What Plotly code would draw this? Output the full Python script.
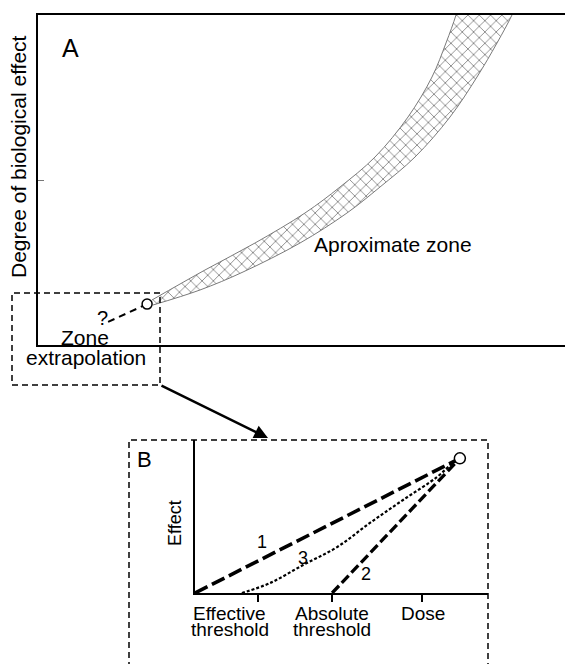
import plotly.graph_objects as go

W, H = 565, 664
FONT = "Liberation Sans, Arial, sans-serif"

# ---- Panel A: dose-response band (arbitrary units, 0..10 on both axes)
band_upper_dose = [2.163, 3.169, 4.118, 5.066, 5.731, 6.395, 7.021, 7.476, 7.742, 7.932, 8.008]
band_upper_effect = [1.364, 2.273, 3.091, 4.0, 4.788, 5.697, 6.909, 8.121, 9.152, 10.0, 10.45]
band_lower_dose = [2.182, 3.074, 3.890, 4.972, 5.863, 6.49, 7.154, 7.818, 8.33, 8.71, 8.994, 9.108]
band_lower_effect = [1.212, 1.667, 2.212, 3.091, 4.0, 4.788, 5.697, 6.909, 8.121, 9.152, 10.0, 10.45]

last_observed = (2.07, 1.24)
extrap_dose = [1.33, 2.07]
extrap_effect = [0.70, 1.24]
a_tick_effect = [5]

# ---- Panel B: extrapolation models toward zero dose
b_point = (9.04, 8.8)
model1_dose = [0.0, 9.04]
model1_effect = [0.0, 8.8]
model2_dose = [4.68, 9.04]
model2_effect = [0.0, 8.8]
model3_dose = [1.6, 2.56, 3.69, 4.85, 5.97, 7.1, 8.26, 8.8, 9.04]
model3_effect = [0.0, 0.65, 1.83, 3.0, 4.58, 6.08, 7.58, 8.5, 8.8]
b_tick_dose = [2.15, 4.68, 7.75]
b_label_dose = [1.19, 4.68, 7.78]
b_tick_labels = [["Effective", "threshold"], ["Absolute", "threshold"], ["Dose"]]


def px(x):
    return x / W


def py(y):
    return 1 - y / H


fig = go.Figure()

# band: upper edge followed by reversed lower edge
band_x = band_upper_dose + band_lower_dose[::-1]
band_y = band_upper_effect + band_lower_effect[::-1]
fig.add_trace(go.Scatter(
    x=band_x, y=band_y, mode="lines", fill="toself",
    line=dict(color="#7a7a7a", width=1, shape="spline", smoothing=1.0),
    fillcolor="white",
    fillpattern=dict(shape="x", fgcolor="#000000", bgcolor="white", size=8, solidity=0.2),
    xaxis="x", yaxis="y", hoverinfo="skip", showlegend=False,
))
fig.add_trace(go.Scatter(
    x=extrap_dose, y=extrap_effect, mode="lines",
    line=dict(color="black", width=2, dash="7px,5px"),
    xaxis="x", yaxis="y", showlegend=False, hoverinfo="skip",
))
fig.add_trace(go.Scatter(
    x=[last_observed[0]], y=[last_observed[1]], mode="markers",
    marker=dict(size=10, color="white", line=dict(color="black", width=1.5)),
    xaxis="x", yaxis="y", showlegend=False, hoverinfo="skip", cliponaxis=False,
))

# panel B model curves
fig.add_trace(go.Scatter(
    x=model1_dose, y=model1_effect, mode="lines",
    line=dict(color="black", width=3.6, dash="14px,5px"),
    xaxis="x2", yaxis="y2", showlegend=False, hoverinfo="skip",
))
fig.add_trace(go.Scatter(
    x=model2_dose, y=model2_effect, mode="lines",
    line=dict(color="black", width=3.3, dash="10px,4px"),
    xaxis="x2", yaxis="y2", showlegend=False, hoverinfo="skip",
))
fig.add_trace(go.Scatter(
    x=model3_dose, y=model3_effect, mode="lines", line_shape="spline",
    line=dict(color="black", width=2.2, dash="3px,2px"),
    xaxis="x2", yaxis="y2", showlegend=False, hoverinfo="skip",
))
fig.add_trace(go.Scatter(
    x=[b_point[0]], y=[b_point[1]], mode="markers",
    marker=dict(size=11, color="white", line=dict(color="black", width=1.5)),
    xaxis="x2", yaxis="y2", showlegend=False, hoverinfo="skip", cliponaxis=False,
))

axis_common = dict(showgrid=False, zeroline=False, showticklabels=False,
                   linecolor="black", fixedrange=True)

fig.update_layout(
    width=W, height=H,
    margin=dict(l=0, r=0, t=0, b=0),
    paper_bgcolor="white", plot_bgcolor="rgba(0,0,0,0)",
    font=dict(family=FONT, color="black"),
    xaxis=dict(domain=[px(38), 1.0], range=[0, 10], showline=True, linewidth=1.5,
               mirror=True, ticks="", **axis_common),
    yaxis=dict(domain=[py(345), py(15)], range=[0, 10], showline=True, linewidth=1.5,
               ticks="inside", ticklen=6, tickcolor="#777777", tickwidth=1,
               tickvals=a_tick_effect, **axis_common),
    xaxis2=dict(domain=[px(195), px(488)], range=[0, 10], showline=True, linewidth=1.5,
                ticks="outside", ticklen=7, tickwidth=1.5, tickcolor="black",
                tickvals=b_tick_dose, anchor="y2", **axis_common),
    yaxis2=dict(domain=[py(593), py(440)], range=[0, 10], showline=True, linewidth=1.5,
                ticks="", anchor="x2", **axis_common),
)

# dashed frames and connecting arrow
dash_line = dict(color="black", width=1.5, dash="6px,4px")
fig.add_shape(type="rect", xref="paper", yref="paper",
              x0=px(12), x1=px(160), y0=py(385), y1=py(293), line=dash_line)
fig.add_shape(type="rect", xref="paper", yref="paper",
              x0=px(129), x1=px(488), y0=py(700), y1=py(440), line=dash_line)

annotations = [
    dict(x=px(268), y=py(438), ax=160 - 268, ay=385 - 438, axref="pixel", ayref="pixel",
         showarrow=True, arrowhead=2, arrowsize=1.1, arrowwidth=2.5, arrowcolor="black", text=""),
    dict(x=px(70), y=py(48), text="A", font=dict(size=25)),
    dict(x=px(18), y=py(157), text="Degree of biological effect", textangle=-90, font=dict(size=21)),
    dict(x=px(312), y=py(245), text="Aproximate zone", xanchor="left", font=dict(size=21)),
    dict(x=px(102), y=py(318), text="?", font=dict(size=20)),
    dict(x=px(85), y=py(337), text="Zone", font=dict(size=21)),
    dict(x=px(86), y=py(357), text="extrapolation", font=dict(size=21)),
    dict(x=px(144), y=py(460), text="B", font=dict(size=22)),
    dict(x=px(175), y=py(523), text="Effect", textangle=-90, font=dict(size=18)),
    dict(x=px(262), y=py(542), text="1", font=dict(size=18)),
    dict(x=px(303), y=py(558), text="3", font=dict(size=18)),
    dict(x=px(366), y=py(574), text="2", font=dict(size=18)),
]
for dose, lines in zip(b_label_dose, b_tick_labels):
    for i, line in enumerate(lines):
        annotations.append(dict(x=dose, xref="x2", y=py(613 + 16 * i), yref="paper",
                                text=line, font=dict(size=19)))

for a in annotations:
    a.setdefault("xref", "paper")
    a.setdefault("yref", "paper")
    a.setdefault("showarrow", False)
    a.setdefault("xanchor", "center")
    a.setdefault("yanchor", "middle")
fig.update_layout(annotations=annotations)

fig.write_html("out.html")
